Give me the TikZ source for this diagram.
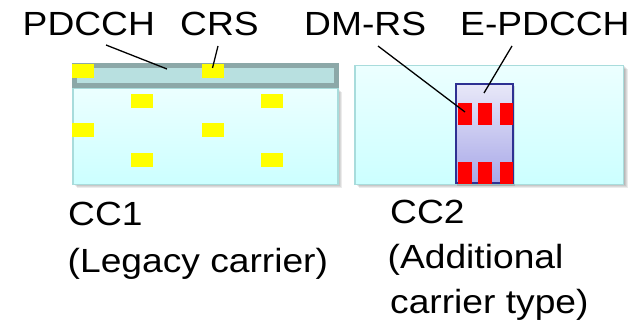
\documentclass[tikz,border=0pt]{standalone}
\usepackage{fontspec}
\setmainfont{Liberation Sans}[FakeStretch=1.11]
\definecolor{boxtop}{HTML}{ECFFFF}
\definecolor{boxbot}{HTML}{CCFFFF}
\definecolor{boxline}{HTML}{A8DCDC}
\definecolor{barfill}{HTML}{B8E0E0}
\definecolor{barline}{HTML}{8CA8A8}
\definecolor{epdtop}{HTML}{E8E8F8}
\definecolor{epdbot}{HTML}{A8A8E8}
\definecolor{epdline}{HTML}{2E3192}
\definecolor{crsyellow}{HTML}{FFFF00}
\definecolor{dmrsred}{HTML}{FF0000}
\tikzset{
  lbl/.style={anchor=base west, inner sep=0pt, font=\fontsize{33.5}{40}\selectfont},
  ccbox/.style={draw=boxline, line width=1.5pt, top color=boxtop, bottom color=boxbot},
  shadowbox/.style={fill=black, opacity=0.08, draw=none},
  crs/.style={fill=crsyellow, draw=none},
  dmrs/.style={fill=dmrsred, draw=none},
  leader/.style={draw=black, line width=1.3pt},
}
\begin{document}
\begin{tikzpicture}[x=1pt,y=-1pt]
\useasboundingbox (0,0) rectangle (633,321);
% shadows
\foreach \d in {1,2,3,4}{
  \fill[shadowbox] (73+\d,88+\d) rectangle (338+\d,184.5+\d);
  \fill[shadowbox] (355+\d,65.5+\d) rectangle (623.5+\d,184.5+\d);
}
% CC1 box
\path[ccbox] (73,88) rectangle (338,184.5);
% PDCCH bar
\fill[barfill] (72,63.5) rectangle (339,88.5);
\draw[barline, line width=5pt] (74.5,66) rectangle (336.5,86);
% CRS
\foreach \x/\y in {72/64,202/64,131/94,261/94,72/123,202/123,131/153,261/153}{
  \fill[crs] (\x,\y) rectangle ++(22,14.5);
}
% CC2 box
\path[ccbox] (355,65.5) rectangle (623.5,184.5);
% E-PDCCH
\fill[black, opacity=0.12] (457,86) rectangle (515,186);
\path[draw=epdline, line width=2pt, top color=epdtop, bottom color=epdbot] (455.5,84) rectangle (512.5,183);
% DM-RS
\foreach \x/\w in {458/14,478/14,500/13}{
  \fill[dmrs] (\x,103) rectangle ++(\w,22);
  \fill[dmrs] (\x,162) rectangle ++(\w,22);
}
% labels
\node[lbl] (pdcch) at (22.5,36) {PDCCH};
\node[lbl] (crs) at (180,36) {CRS};
\node[lbl] (dmrs) at (304,36) {DM-RS};
\node[lbl] (epdcch) at (460,36) {E-PDCCH};
\node[lbl] (cc1) at (68,225.5) {CC1};
\node[lbl] (cc1b) at (67.5,272) {(Legacy carrier)};
\node[lbl] (cc2) at (390,223) {CC2};
\node[lbl] (cc2b) at (387.5,268.5) {(Additional};
\node[lbl] (cc2c) at (390,313) {carrier type)};
% leader lines
\coordinate (pdcchA) at (106,45);
\coordinate (pdcchB) at (167,69);
\coordinate (crsA) at (218,46);
\coordinate (crsB) at (212.5,68);
\coordinate (dmrsA) at (378,46);
\coordinate (dmrsB) at (465,112);
\coordinate (epdA) at (512,46);
\coordinate (epdB) at (484,93);
\draw[leader] (pdcchA) -- (pdcchB);
\draw[leader] (crsA) -- (crsB);
\draw[leader] (dmrsA) -- (dmrsB);
\draw[leader] (epdA) -- (epdB);
\end{tikzpicture}
\end{document}
